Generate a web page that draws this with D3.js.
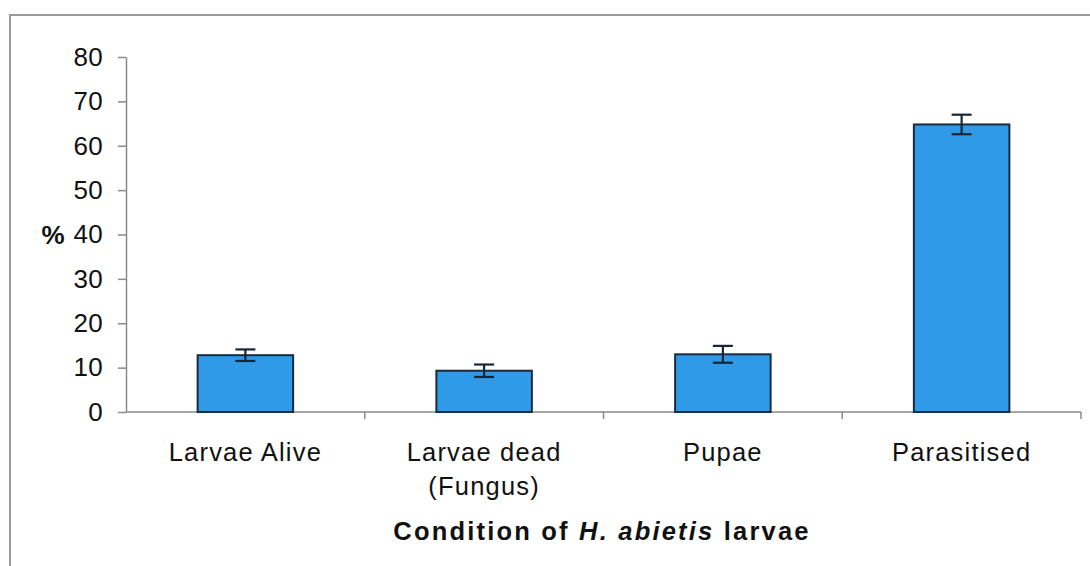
<!DOCTYPE html>
<html>
<head>
<meta charset="utf-8">
<script src="https://cdn.jsdelivr.net/npm/d3@7"></script>
<style>
  html, body { margin: 0; padding: 0; background: #ffffff; }
  svg { display: block; }
  text { font-family: "Liberation Sans", Arial, sans-serif; fill: #111111; }
</style>
</head>
<body>
<svg id="chart" width="1090" height="566"></svg>
<script>
// Condition of H. abietis larvae: mean percentage with standard error
const categories = [["Larvae Alive"], ["Larvae dead", "(Fungus)"], ["Pupae"], ["Parasitised"]];
const categoryKeys = ["Larvae Alive", "Larvae dead (Fungus)", "Pupae", "Parasitised"];
const percentValues = [12.8, 9.3, 13.0, 64.8];
const errorValues = [1.3, 1.4, 1.9, 2.2];
const yTicks = [0, 10, 20, 30, 40, 50, 60, 70, 80];

const svg = d3.select("#chart");
const W = 1090, H = 566;
const plot = { left: 126, right: 1081, top: 57, bottom: 412 };

// outer frame (top and left edges visible)
svg.append("path")
  .attr("d", `M10,${H} L10,15 L${W},15`)
  .attr("fill", "none")
  .attr("stroke", "#9a9a9a")
  .attr("stroke-width", 2);

const x = d3.scaleBand()
  .domain(categoryKeys)
  .range([plot.left, plot.right])
  .paddingInner(0.6)
  .paddingOuter(0.3);

const y = d3.scaleLinear()
  .domain([0, 80])
  .range([plot.bottom, plot.top]);

// y axis
const yAxis = svg.append("g")
  .attr("transform", `translate(${plot.left},0)`)
  .call(d3.axisLeft(y).tickValues(yTicks).tickSize(8).tickPadding(15).tickSizeOuter(0));
yAxis.select(".domain").attr("stroke", "#8a8a8a").attr("stroke-width", 1.5);
yAxis.selectAll(".tick line").attr("stroke", "#8a8a8a").attr("stroke-width", 1.5);
yAxis.selectAll(".tick text")
  .attr("font-size", 26)
  .attr("font-family", "Liberation Sans, Arial, sans-serif")
  .attr("fill", "#111111")
  .attr("letter-spacing", 0.3);

// x axis baseline with ticks on category boundaries
const xAxisG = svg.append("g");
xAxisG.append("line")
  .attr("x1", plot.left).attr("x2", plot.right)
  .attr("y1", y(0)).attr("y2", y(0))
  .attr("stroke", "#8a8a8a").attr("stroke-width", 1.5);
const boundaries = d3.range(1, categoryKeys.length + 1).map(i => x.range()[0] + i * x.step());
xAxisG.selectAll("line.bt")
  .data(boundaries)
  .join("line")
  .attr("class", "bt")
  .attr("x1", d => d).attr("x2", d => d)
  .attr("y1", y(0)).attr("y2", y(0) + 7)
  .attr("stroke", "#8a8a8a").attr("stroke-width", 1.5);

// bars
svg.append("g").selectAll("rect")
  .data(percentValues)
  .join("rect")
  .attr("x", (d, i) => x(categoryKeys[i]))
  .attr("y", d => y(d))
  .attr("width", x.bandwidth())
  .attr("height", d => y(0) - y(d))
  .attr("fill", "#2f9be8")
  .attr("stroke", "#1b2a3c")
  .attr("stroke-width", 2);

// error bars
const capHalf = 10;
const eb = svg.append("g").attr("stroke", "#1b2433").attr("stroke-width", 2.2);
percentValues.forEach((v, i) => {
  const cx = x(categoryKeys[i]) + x.bandwidth() / 2;
  const hi = y(v + errorValues[i]), lo = y(v - errorValues[i]);
  eb.append("line").attr("x1", cx).attr("x2", cx).attr("y1", hi).attr("y2", lo);
  eb.append("line").attr("x1", cx - capHalf).attr("x2", cx + capHalf).attr("y1", hi).attr("y2", hi);
  eb.append("line").attr("x1", cx - capHalf).attr("x2", cx + capHalf).attr("y1", lo).attr("y2", lo);
});

// category labels
const labels = svg.append("g");
categories.forEach((lines, i) => {
  const cx = x(categoryKeys[i]) + x.bandwidth() / 2;
  const t = labels.append("text")
    .attr("x", cx)
    .attr("y", 461)
    .attr("text-anchor", "middle")
    .attr("font-size", 25.5)
    .attr("letter-spacing", 1.2);
  lines.forEach((ln, j) => {
    t.append("tspan").attr("x", cx).attr("dy", j === 0 ? 0 : 34).text(ln);
  });
});

// y axis title
svg.append("text")
  .attr("x", 53)
  .attr("y", y(40) + 9)
  .attr("text-anchor", "middle")
  .attr("font-size", 26)
  .attr("font-weight", "bold")
  .text("%");

// x axis title
const xt = svg.append("text")
  .attr("x", 602)
  .attr("y", 540)
  .attr("text-anchor", "middle")
  .attr("font-size", 25.5)
  .attr("font-weight", "bold")
  .attr("letter-spacing", 2.2);
xt.append("tspan").text("Condition of ");
xt.append("tspan").attr("font-style", "italic").text("H. abietis");
xt.append("tspan").text(" larvae");
</script>
</body>
</html>
